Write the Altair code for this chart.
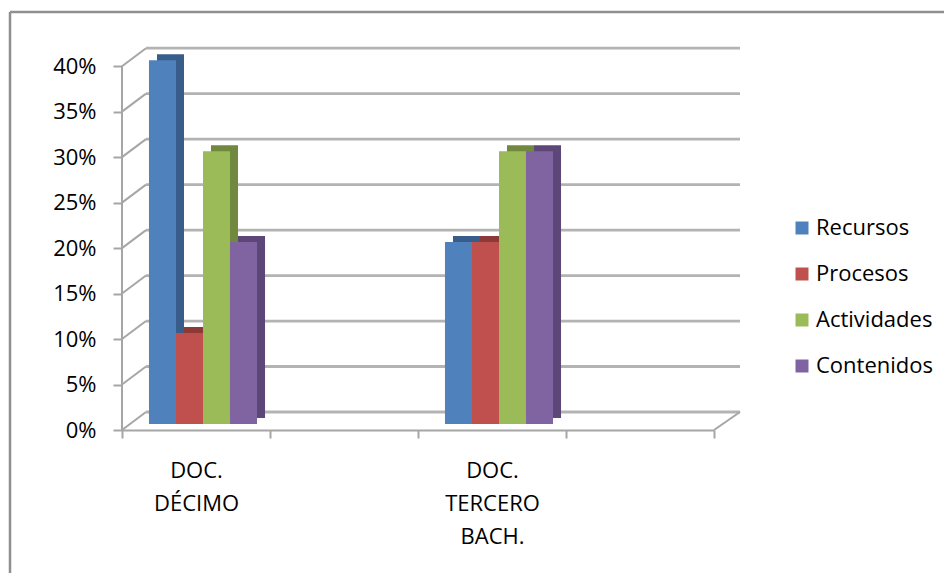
import altair as alt
import pandas as pd

# ---- data ----
categories = ["DOC. DÉCIMO", " ", "DOC. TERCERO BACH.", "  "]
series = ["Recursos", "Procesos", "Actividades", "Contenidos"]
decimo = [0.40, 0.10, 0.30, 0.20]
tercero = [0.20, 0.20, 0.30, 0.30]
y_ticks = [0.0, 0.05, 0.10, 0.15, 0.20, 0.25, 0.30, 0.35, 0.40]

front_colors = ["#4F81BD", "#C0504D", "#9BBB59", "#8064A2"]
side_colors = ["#385D8A", "#8C3A38", "#71893F", "#5C4778"]

rows = []
for s, v in zip(series, decimo):
    rows.append({"grupo": categories[0], "serie": s, "valor": v})
for s, v in zip(series, tercero):
    rows.append({"grupo": categories[2], "serie": s, "valor": v})
df = pd.DataFrame(rows)
grid_df = pd.DataFrame({"v": y_ticks})
one_df = pd.DataFrame({"k": [0]})

# ---- layout (styling) ----
H = 382
W_axis = 592
W = 618
ymax = 0.42
ppu = H / ymax
depth_x = 24
depth_u = 18 / ppu
lift_u = 6 / ppu
ext_x = 8
ext_u = 6 / ppu
shift_x = 7
pad_in, pad_out = 0.27, 0.135

GRID = "#b3b3b3"
AXIS = "#a6a6a6"
FONT = "Open Sans"
FS = 22

main_y = alt.Scale(domain=[0, ymax])

frame_left = alt.Chart(one_df).mark_rule(color="#8f8f8f", strokeWidth=2.5).encode(
    x=alt.value(-112), y=alt.value(-36), y2=alt.value(533)
)
frame_top = alt.Chart(one_df).mark_rule(color="#8f8f8f", strokeWidth=2.5).encode(
    x=alt.value(-112), x2=alt.value(830), y=alt.value(-36)
)

grid = alt.Chart(grid_df).mark_rule(color=GRID, strokeWidth=2.8).encode(
    y=alt.Y("v:Q", scale=alt.Scale(domain=[-depth_u, ymax - depth_u]), axis=None),
    x=alt.value(depth_x), x2=alt.value(W),
)

wall = alt.Chart(grid_df).transform_calculate(v2=f"datum.v + {depth_u}").mark_rule(
    color=AXIS, strokeWidth=2
).encode(
    y=alt.Y("v:Q", scale=main_y, axis=None), y2="v2:Q",
    x=alt.value(0), x2=alt.value(depth_x),
)

floor_right = alt.Chart(grid_df).transform_filter("datum.v == 0").transform_calculate(
    v2=f"datum.v + {depth_u}"
).mark_rule(color=AXIS, strokeWidth=2).encode(
    y=alt.Y("v:Q", scale=main_y, axis=None), y2="v2:Q",
    x=alt.value(W_axis), x2=alt.value(W),
)

yaxis = alt.Chart(grid_df).transform_aggregate(lo="min(v)", hi="max(v)").mark_rule(
    color=AXIS, strokeWidth=2
).encode(
    x=alt.value(0),
    y=alt.Y("lo:Q", scale=main_y, title=None,
            axis=alt.Axis(values=y_ticks, format=".0%", domain=False, grid=False,
                          tickSize=9, tickColor=AXIS, tickWidth=2,
                          labelPadding=17)),
    y2="hi:Q",
)

xaxis = alt.Chart(df).mark_bar(opacity=0).encode(
    x=alt.X("grupo:N", title=None,
            scale=alt.Scale(domain=categories, range=[0, W_axis],
                            paddingInner=0, paddingOuter=0),
            axis=alt.Axis(labelAngle=0, tickBand="extent", domainColor=AXIS,
                          domainWidth=2, tickColor=AXIS, tickWidth=2, tickSize=8,
                          labelPadding=22, labelLineHeight=33, labelLimit=0,
                          labelExpr="datum.value ? split(datum.value, ' ') : ''")),
    y=alt.Y("valor:Q", scale=main_y, axis=None),
)

back = alt.Chart(df).mark_bar().encode(
    x=alt.X("grupo:N", axis=None,
            scale=alt.Scale(domain=categories,
                            range=[shift_x + ext_x, W_axis + shift_x + ext_x],
                            paddingInner=pad_in, paddingOuter=pad_out)),
    xOffset=alt.XOffset("serie:N", scale=alt.Scale(domain=series)),
    y=alt.Y("valor:Q", axis=None,
            scale=alt.Scale(domain=[-lift_u - ext_u, ymax - lift_u - ext_u])),
    color=alt.Color("serie:N", legend=None,
                    scale=alt.Scale(domain=series, range=side_colors)),
)

front = alt.Chart(df).mark_bar().encode(
    x=alt.X("grupo:N", axis=None,
            scale=alt.Scale(domain=categories, range=[shift_x, W_axis + shift_x],
                            paddingInner=pad_in, paddingOuter=pad_out)),
    xOffset=alt.XOffset("serie:N", scale=alt.Scale(domain=series)),
    y=alt.Y("valor:Q", axis=None,
            scale=alt.Scale(domain=[-lift_u, ymax - lift_u])),
    color=alt.Color("serie:N", title=None, sort=series,
                    scale=alt.Scale(domain=series, range=front_colors),
                    legend=alt.Legend(orient="none", legendX=669, legendY=169,
                                      symbolType="square", symbolSize=169,
                                      symbolStrokeWidth=0, labelOffset=3,
                                      rowPadding=24, padding=0)),
)

chart = alt.layer(
    frame_left, frame_top, grid, wall, floor_right, yaxis, xaxis, back, front
).resolve_scale(
    x="independent", y="independent", color="independent"
).properties(
    width=W, height=H,
    autosize=alt.AutoSizeParams(type="none"),
    padding={"left": 114, "top": 40, "right": 204, "bottom": 143},
    background="white",
).configure_view(stroke=None).configure_axis(
    labelFont=FONT, labelFontSize=FS, labelColor="#000000"
).configure_legend(
    labelFont=FONT, labelFontSize=FS, labelColor="#000000"
)

chart.save("out.html", embed_options={"renderer": "svg", "actions": False})
